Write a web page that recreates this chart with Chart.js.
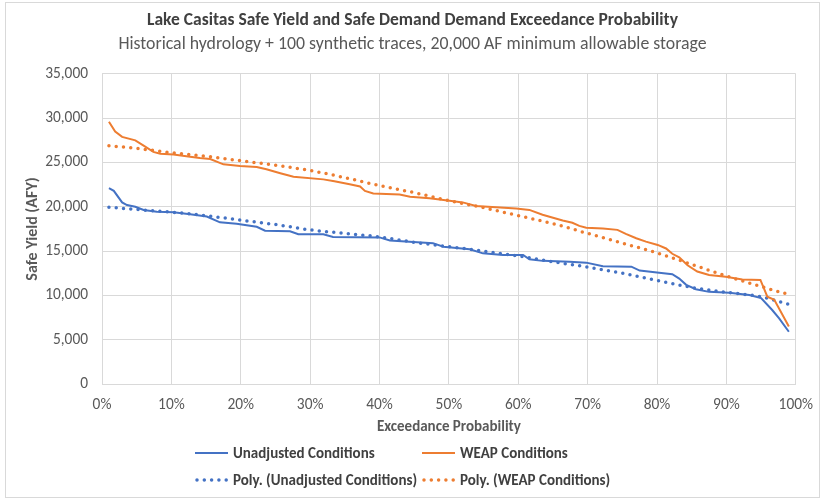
<!DOCTYPE html>
<html>
<head>
<meta charset="utf-8">
<script src="https://cdn.jsdelivr.net/npm/chart.js@4"></script>
<style>
  html, body { margin: 0; padding: 0; background: #fff; }
  #wrap { width: 825px; height: 500px; }
</style>
</head>
<body>
<div id="wrap"><canvas id="chart" width="825" height="500"></canvas></div>
<script>
const FONT = 'Carlito, "Liberation Sans Narrow", "Open Sans", sans-serif';

// exceedance probability (%) and safe yield (AFY)
const unadjX = [1, 1.7, 2.9, 3.6, 4.8, 6, 7.9, 10.3, 12.7, 15.1, 17, 19.4, 22.3, 23.5, 27.1, 28.3, 31.9, 33.3, 40, 41.5, 47.7, 49.2, 53, 54.9, 57.8, 60.7, 61.6, 63.5, 67.4, 69.8, 72.2, 76.3, 77.5, 80.3, 82.2, 83.2, 84.2, 85.6, 87.5, 90.4, 93.3, 95, 96.6, 97.6, 99];
const unadjY = [22100, 21800, 20500, 20200, 20000, 19650, 19450, 19400, 19150, 18900, 18250, 18100, 17750, 17300, 17250, 16900, 16900, 16600, 16550, 16200, 15900, 15500, 15200, 14750, 14560, 14560, 14070, 13900, 13800, 13700, 13300, 13250, 12800, 12570, 12400, 11900, 11200, 10700, 10400, 10300, 10050, 9700, 8350, 7400, 5900];

const weapX = [1, 1.9, 2.9, 4.8, 6, 7.4, 8.4, 10.3, 12.7, 14.1, 15.6, 17.5, 19.9, 22.3, 23.7, 25.7, 27.6, 31.9, 33.5, 35.7, 37.2, 37.9, 39.1, 42.9, 44.4, 47.2, 50.1, 52, 53.9, 56.8, 59.7, 61.6, 63.5, 66.4, 67.8, 68.8, 69.8, 72.2, 74.3, 75.5, 77, 78.4, 80.1, 81.3, 82.2, 83.2, 84.4, 85.8, 87.5, 89.9, 92.3, 94.9, 95.9, 96.9, 99];
const weapY = [29600, 28500, 27900, 27500, 26900, 26200, 26000, 25900, 25650, 25500, 25400, 24800, 24600, 24500, 24250, 23800, 23400, 23100, 22900, 22550, 22300, 21800, 21500, 21400, 21150, 20970, 20700, 20500, 20100, 19950, 19800, 19650, 19100, 18450, 18200, 17850, 17650, 17550, 17400, 16950, 16450, 16070, 15700, 15300, 14700, 14300, 13400, 12700, 12300, 12100, 11800, 11750, 9850, 9500, 6500];

// trendlines (Excel "Poly.")
const polyX = [1, 5, 10, 15, 20, 25, 30, 35, 40, 45, 50, 55, 60, 65, 70, 75, 80, 85, 90, 95, 99];
const polyUnadjY = [19950, 19700, 19400, 19000, 18500, 18000, 17400, 17000, 16600, 16000, 15500, 15000, 14450, 13800, 13200, 12500, 11700, 10900, 10350, 9850, 9000];
const polyWeapY = [26900, 26600, 26100, 25700, 25200, 24700, 24100, 23300, 22400, 21600, 20700, 19900, 19000, 18100, 17000, 15900, 14800, 13500, 12200, 11000, 10100];

const xTicks = [0, 10, 20, 30, 40, 50, 60, 70, 80, 90, 100];
const yTicks = [0, 5000, 10000, 15000, 20000, 25000, 30000, 35000];

const BLUE = "#4472C4";
const ORANGE = "#ED7D31";
const GRID = "#d9d9d9";

function pts(xs, ys) {
    return xs.map((x, i) => ({ x: x, y: ys[i] }));
}

// frame around the chart
const framePlugin = {
    id: "frame",
    beforeDraw(chart) {
        const c = chart.ctx;
        c.save();
        c.fillStyle = "#fff";
        c.fillRect(0, 0, chart.width, chart.height);
        c.strokeStyle = GRID;
        c.lineWidth = 1;
        c.strokeRect(5.5, 2.5, 814, 495);
        c.restore();
    }
};

// two-row legend like Excel's
const legendPlugin = {
    id: "excelLegend",
    afterDraw(chart) {
        const c = chart.ctx;
        const cols = [195, 422];
        const rows = [453, 480];
        chart.data.datasets.forEach((ds, i) => {
            const x = cols[i % 2];
            const y = rows[Math.floor(i / 2)];
            c.save();
            c.strokeStyle = ds.borderColor;
            c.lineWidth = ds.borderWidth;
            c.lineCap = ds.borderCapStyle || "butt";
            c.setLineDash(ds.borderDash || []);
            c.beginPath();
            c.moveTo(x + (ds.borderDash ? 2 : 0), y);
            c.lineTo(x + 33, y);
            c.stroke();
            c.setLineDash([]);
            c.fillStyle = "#404040";
            c.font = "bold 15px " + FONT;
            c.textBaseline = "middle";
            c.fillText(ds.label, x + 38, y + 1);
            c.restore();
        });
    }
};

new Chart(document.getElementById("chart"), {
    type: "scatter",
    data: {
        datasets: [
            {
                label: "Unadjusted Conditions",
                data: pts(unadjX, unadjY),
                showLine: true,
                borderColor: BLUE,
                borderWidth: 2,
                pointRadius: 0,
                tension: 0
            },
            {
                label: "WEAP Conditions",
                data: pts(weapX, weapY),
                showLine: true,
                borderColor: ORANGE,
                borderWidth: 2,
                pointRadius: 0,
                tension: 0
            },
            {
                label: "Poly. (Unadjusted Conditions)",
                data: pts(polyX, polyUnadjY),
                showLine: true,
                borderColor: BLUE,
                borderWidth: 3.5,
                borderDash: [0, 7.3],
                borderCapStyle: "round",
                pointRadius: 0,
                cubicInterpolationMode: "monotone"
            },
            {
                label: "Poly. (WEAP Conditions)",
                data: pts(polyX, polyWeapY),
                showLine: true,
                borderColor: ORANGE,
                borderWidth: 3.5,
                borderDash: [0, 7.3],
                borderCapStyle: "round",
                pointRadius: 0,
                cubicInterpolationMode: "monotone"
            }
        ]
    },
    options: {
        responsive: false,
        animation: false,
        layout: { padding: { left: 28, right: 28, top: 0, bottom: 60 } },
        plugins: {
            legend: { display: false },
            tooltip: { enabled: false },
            title: {
                display: true,
                text: "Lake Casitas Safe Yield and Safe Demand Demand Exceedance Probability",
                color: "#404040",
                font: { family: FONT, size: 17.5, weight: "bold" },
                padding: { top: 10, bottom: 1 }
            },
            subtitle: {
                display: true,
                text: "Historical hydrology + 100 synthetic traces, 20,000 AF minimum allowable storage",
                color: "#595959",
                font: { family: FONT, size: 17.8 },
                padding: { top: 2, bottom: 18.6 }
            }
        },
        scales: {
            x: {
                type: "linear",
                min: 0,
                max: 100,
                afterFit(scale) { scale.height = 56; },
                afterBuildTicks(scale) { scale.ticks = xTicks.map(v => ({ value: v })); },
                ticks: {
                    callback: v => v + "%",
                    color: "#595959",
                    font: { family: FONT, size: 15.4 },
                    padding: 12,
                    maxRotation: 0
                },
                grid: { color: GRID, drawTicks: false },
                border: { color: GRID },
                title: {
                    display: true,
                    text: "Exceedance Probability",
                    color: "#595959",
                    font: { family: FONT, size: 15, weight: "bold" },
                    padding: { top: 0, bottom: 4 }
                }
            },
            y: {
                min: 0,
                max: 35000,
                afterFit(scale) { scale.width = 74; },
                afterBuildTicks(scale) { scale.ticks = yTicks.map(v => ({ value: v })); },
                ticks: {
                    callback: v => v.toLocaleString("en-US"),
                    color: "#595959",
                    font: { family: FONT, size: 15.4 },
                    padding: 14
                },
                grid: { color: GRID, drawTicks: false },
                border: { color: GRID },
                title: {
                    display: true,
                    text: "Safe Yield (AFY)",
                    color: "#595959",
                    font: { family: FONT, size: 16, weight: "bold" },
                    padding: { top: -4.6, bottom: 0 }
                }
            }
        }
    },
    plugins: [framePlugin, legendPlugin]
});
</script>
</body>
</html>
